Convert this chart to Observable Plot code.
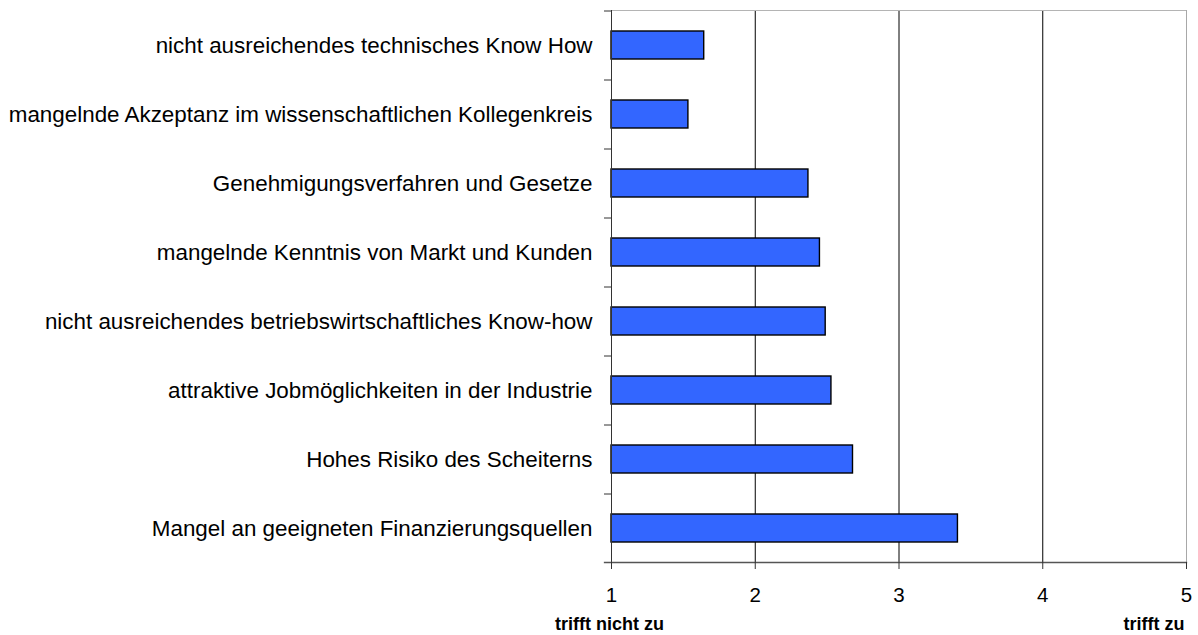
<!DOCTYPE html>
<html>
<head>
<meta charset="utf-8">
<script src="https://cdn.jsdelivr.net/npm/d3@7"></script>
<script src="https://cdn.jsdelivr.net/npm/@observablehq/plot@0.6"></script>
<style>
  html, body { margin: 0; padding: 0; background: #fff; }
</style>
</head>
<body>
<div id="chart"></div>
<script>
const categories = [
  "nicht ausreichendes technisches Know How",
  "mangelnde Akzeptanz im wissenschaftlichen Kollegenkreis",
  "Genehmigungsverfahren und Gesetze",
  "mangelnde Kenntnis von Markt und Kunden",
  "nicht ausreichendes betriebswirtschaftliches Know-how",
  "attraktive Jobmöglichkeiten in der Industrie",
  "Hohes Risiko des Scheiterns",
  "Mangel an geeigneten Finanzierungsquellen"
];
const values = [1.645, 1.535, 2.37, 2.45, 2.49, 2.53, 2.68, 3.41];
const baseline = 1;
const xTicks = [1, 2, 3, 4, 5];
const gridValues = [2, 3, 4];
const endLabels = ["trifft nicht zu", "trifft zu"];
const endPositions = [1, 5];

const data = categories.map((c, i) => ({cat: c, value: values[i]}));

const W = 1198, H = 635;
const mT = 10, mB = 73, mL = 611, mR = 12;
const step = (H - mT - mB) / categories.length;

const chart = Plot.plot({
  width: W,
  height: H,
  marginLeft: mL,
  marginRight: mR,
  marginTop: mT,
  marginBottom: mB,
  style: {fontFamily: "'Liberation Sans', Arial, sans-serif", color: "#000", background: "#fff"},
  x: {domain: [xTicks[0], xTicks[xTicks.length - 1]]},
  y: {domain: categories, paddingInner: 0.6, paddingOuter: 0.3},
  marks: [
    Plot.ruleX(gridValues, {stroke: "#000", strokeWidth: 1}),
    Plot.frame({anchor: "top", stroke: "#b4b4b4"}),
    Plot.frame({anchor: "right", stroke: "#a8a8a8"}),
    Plot.barX(data, {y: "cat", x1: baseline, x2: "value", fill: "#3366ff", stroke: "#000", strokeWidth: 1.4}),
    Plot.frame({anchor: "left", stroke: "#333"}),
    Plot.frame({anchor: "bottom", stroke: "#555", strokeWidth: 1.3, insetLeft: -7}),
    Plot.axisX({ticks: xTicks, tickSize: 7, tickPadding: 18, fontSize: 20.5, tickFormat: d => String(d), stroke: "#333", label: null}),
    Plot.axisY({tickSize: 0, tickPadding: 19, fontSize: 22.4, label: null}),
    Plot.axisY({text: null, tickSize: 7, dy: -step / 2, stroke: "#333", label: null}),
    Plot.text([endLabels[0]], {x: endPositions[0], frameAnchor: "bottom", dy: 67, dx: -2, fontWeight: "bold", fontSize: 18, textAnchor: "middle", fill: "#000"}),
    Plot.text([endLabels[1]], {x: endPositions[1], frameAnchor: "bottom", dy: 67, dx: -2, fontWeight: "bold", fontSize: 18, textAnchor: "end", fill: "#000"})
  ]
});
document.getElementById("chart").appendChild(chart);
</script>
</body>
</html>
